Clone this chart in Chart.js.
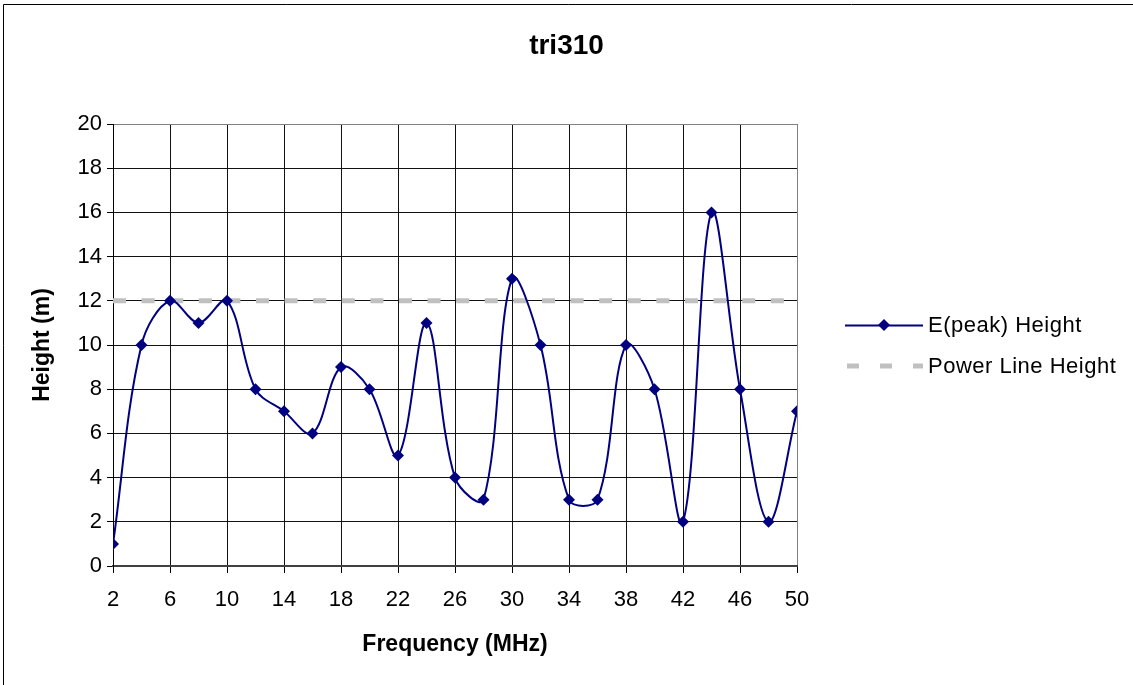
<!DOCTYPE html>
<html>
<head>
<meta charset="utf-8">
<script src="https://cdn.jsdelivr.net/npm/chart.js@4/dist/chart.umd.min.js"></script>
<style>
  html, body { margin: 0; padding: 0; background: #fff; }
  #wrap { width: 1133px; height: 685px; position: relative; }
</style>
</head>
<body>
<div id="wrap"><canvas id="c" width="1133" height="685"></canvas></div>
<script>
const chartTitle = 'tri310';
const xTitle = 'Frequency (MHz)';
const yTitle = 'Height (m)';
const frequencies = [2, 4, 6, 8, 10, 12, 14, 16, 18, 20, 22, 24, 26, 28, 30, 32, 34, 36, 38, 40, 42, 44, 46, 48, 50];
const peakHeights = [1, 10, 12, 11, 12, 8, 7, 6, 9, 8, 5, 11, 4, 3, 13, 10, 3, 3, 10, 8, 2, 16, 8, 2, 7];
const powerLineHeights = [12, 12, 12, 12, 12, 12, 12, 12, 12, 12, 12, 12, 12, 12, 12, 12, 12, 12, 12, 12, 12, 12, 12, 12, 12];
const seriesLabels = ['E(peak) Height', 'Power Line Height'];
const xTickValues = [2, 6, 10, 14, 18, 22, 26, 30, 34, 38, 42, 46, 50];

const FONT = '"Liberation Sans", Arial, sans-serif';
const NAVY = '#000080';
const GREY = '#c0c0c0';

const frameTitleLegend = {
  id: 'frameTitleLegend',
  afterDraw(chart) {
    const ctx = chart.ctx;
    ctx.save();
    // outer chart frame
    ctx.strokeStyle = '#000';
    ctx.lineWidth = 1;
    ctx.beginPath();
    ctx.moveTo(3.5, 700);
    ctx.lineTo(3.5, 4.5);
    ctx.lineTo(1140, 4.5);
    ctx.stroke();

    // chart title, centred on the whole chart
    ctx.fillStyle = '#000';
    ctx.font = 'bold 28px ' + FONT;
    ctx.textAlign = 'center';
    ctx.textBaseline = 'alphabetic';
    ctx.fillText(chartTitle, chart.width / 2, 54);

    // legend
    const ds = chart.data.datasets;
    const lx0 = 845, lx1 = 923, tx = 928;
    const rows = [325, 366];
    ctx.textAlign = 'left';
    ctx.font = '22px ' + FONT;
    ctx.textBaseline = 'middle';
    try { ctx.letterSpacing = '0.5px'; } catch (e) {}
    // item 1
    ctx.strokeStyle = ds[0].borderColor;
    ctx.lineWidth = 2;
    ctx.beginPath();
    ctx.moveTo(lx0, rows[0] + 0.5);
    ctx.lineTo(lx1, rows[0] + 0.5);
    ctx.stroke();
    const mx = (lx0 + lx1) / 2;
    ctx.fillStyle = ds[0].pointBackgroundColor;
    ctx.beginPath();
    ctx.moveTo(mx, rows[0] - 6);
    ctx.lineTo(mx + 6, rows[0]);
    ctx.lineTo(mx, rows[0] + 6);
    ctx.lineTo(mx - 6, rows[0]);
    ctx.closePath();
    ctx.fill();
    ctx.fillStyle = '#000';
    ctx.fillText(ds[0].label, tx, rows[0] + 1);
    // item 2
    ctx.strokeStyle = ds[1].borderColor;
    ctx.lineWidth = 5;
    ctx.setLineDash([12, 21]);
    ctx.beginPath();
    ctx.moveTo(lx0 + 2, rows[1]);
    ctx.lineTo(lx1, rows[1]);
    ctx.stroke();
    ctx.setLineDash([]);
    ctx.fillText(ds[1].label, tx, rows[1] + 1);
    ctx.restore();
  }
};

const gridColor = (ctx) => {
  const v = ctx.tick ? ctx.tick.value : null;
  if (v === 20 || v === 50) return '#808080';
  return '#111';
};

new Chart(document.getElementById('c'), {
  type: 'line',
  data: {
    datasets: [
      {
        label: seriesLabels[0],
        data: frequencies.map((f, i) => ({ x: f, y: peakHeights[i] })),
        borderColor: NAVY,
        backgroundColor: NAVY,
        pointBackgroundColor: NAVY,
        pointBorderColor: NAVY,
        borderWidth: 2,
        pointStyle: 'rectRot',
        pointRadius: 6,
        pointBorderWidth: 0,
        tension: 0.35,
        order: 0
      },
      {
        label: seriesLabels[1],
        data: frequencies.map((f, i) => ({ x: f, y: powerLineHeights[i] })),
        borderColor: GREY,
        backgroundColor: GREY,
        borderWidth: 5,
        borderDash: [13, 15.6],
        pointRadius: 0,
        tension: 0,
        order: 1
      }
    ]
  },
  options: {
    responsive: false,
    animation: false,
    events: [],
    layout: { padding: { left: 0, right: 336, top: 124, bottom: 0 } },
    plugins: {
      legend: { display: false },
      tooltip: { enabled: false },
      title: { display: false }
    },
    scales: {
      x: {
        type: 'linear',
        min: 2,
        max: 50,
        afterFit(scale) { scale.height = 119; },
        afterBuildTicks(scale) { scale.ticks = xTickValues.map(v => ({ value: v })); },
        ticks: {
          color: '#000',
          font: { family: FONT, size: 22 },
          padding: 14,
          maxRotation: 0,
          autoSkip: false
        },
        grid: {
          color: gridColor,
          lineWidth: 1,
          tickLength: 7,
          tickColor: '#000'
        },
        border: { color: '#404040', width: 2 },
        title: {
          display: true,
          text: xTitle,
          color: '#000',
          font: { family: FONT, size: 23, weight: 'bold', lineHeight: 1.2 },
          padding: { top: 0, bottom: 27 }
        }
      },
      y: {
        min: 0,
        max: 20,
        afterFit(scale) { scale.width = 113; },
        ticks: {
          stepSize: 2,
          color: '#000',
          font: { family: FONT, size: 22 },
          padding: 5
        },
        grid: {
          color: gridColor,
          lineWidth: 1,
          tickLength: 6,
          tickColor: '#000'
        },
        border: { color: '#000', width: 1 },
        title: {
          display: true,
          text: yTitle,
          color: '#000',
          font: { family: FONT, size: 23, weight: 'bold', lineHeight: 1.2 },
          padding: { top: 29, bottom: 0 }
        }
      }
    }
  },
  plugins: [frameTitleLegend]
});
</script>
</body>
</html>
